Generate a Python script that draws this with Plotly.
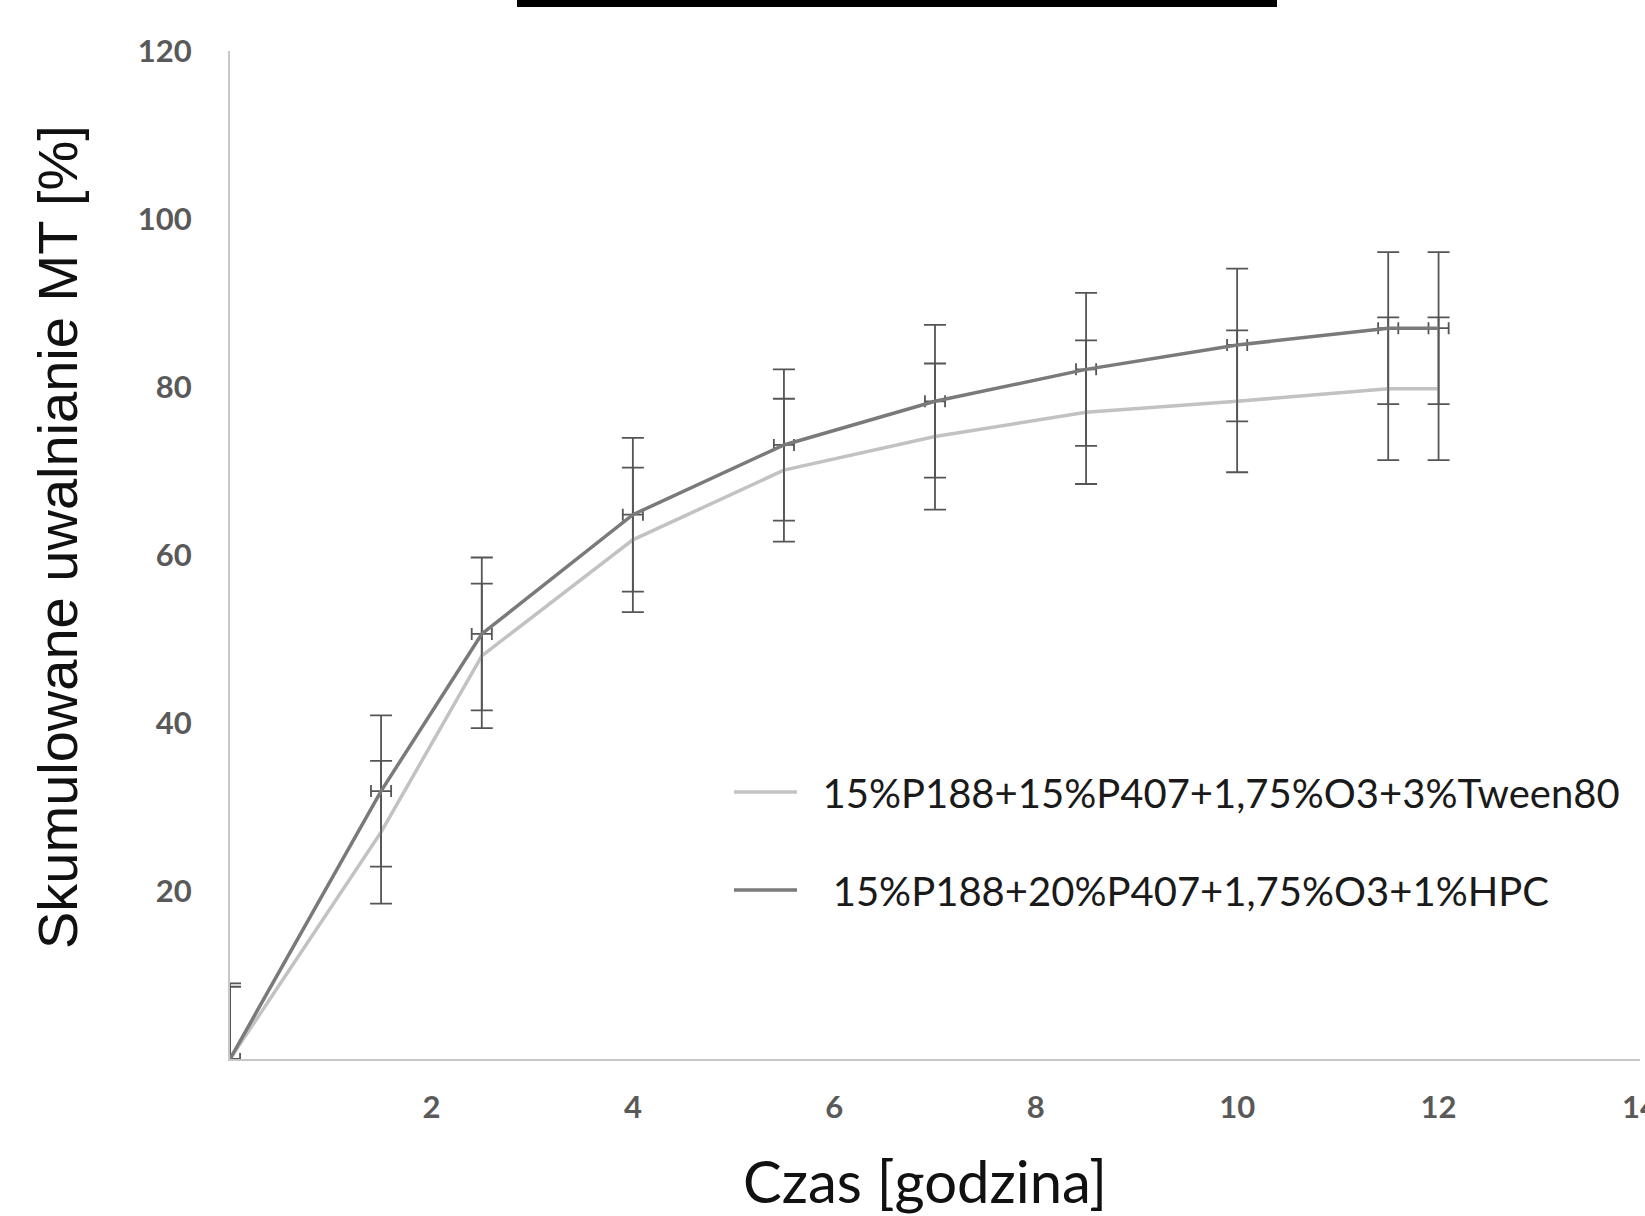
import plotly.graph_objects as go

time_h = [0, 1.5, 2.5, 4, 5.5, 7, 8.5, 10, 11.5, 12]
tween_vals = [0, 27.0, 48.0, 61.8, 70.1, 74.1, 77.0, 78.3, 79.8, 79.8]
tween_err = [8.6, 8.5, 8.6, 8.6, 8.5, 8.7, 8.55, 8.45, 8.5, 8.5]
hpc_vals = [0, 31.9, 50.6, 64.8, 73.1, 78.3, 82.1, 85.0, 87.0, 87.0]
hpc_err = [9.0, 9.0, 9.1, 9.15, 9.0, 9.1, 9.1, 9.1, 9.05, 9.05]
hpc_xerr = [0.1] * len(time_h)

names = ["\u00a0\u00a015%P188+15%P407+1,75%O3+3%Tween80",
         "\u00a0\u00a0\u00a015%P188+20%P407+1,75%O3+1%HPC"]
x_ticks = [2, 4, 6, 8, 10, 12, 14]
y_ticks = [20, 40, 60, 80, 100, 120]

W, H = 1645, 1216
ML, MR, MT, MB = 230, 5, 51, 157
PW, PH = W - ML - MR, H - MT - MB


def px_x(p):
    return (p - ML) / PW


def px_y(p):
    return (H - MB - p) / PH


fig = go.Figure()
fig.add_trace(go.Scatter(
    x=time_h, y=tween_vals, mode="lines", name=names[0], legend="legend",
    line=dict(color="#c2c2c2", width=3.5),
    error_y=dict(type="data", array=tween_err, color="#555555", thickness=1.8, width=11),
))
fig.add_trace(go.Scatter(
    x=time_h, y=hpc_vals, mode="lines", name=names[1], legend="legend2",
    line=dict(color="#7a7a7a", width=3.5),
    error_y=dict(type="data", array=hpc_err, color="#555555", thickness=1.8, width=11),
    error_x=dict(type="data", array=hpc_xerr, color="#555555", thickness=1.8, width=6),
))

leg_font = dict(family="Lato, Open Sans, sans-serif", size=40, color="#1a1a1a")
fig.update_layout(
    width=W, height=H,
    margin=dict(l=ML, r=MR, t=MT, b=MB),
    paper_bgcolor="white", plot_bgcolor="white",
    showlegend=True,
    legend=dict(x=px_x(729), y=px_y(792), xanchor="left", yanchor="middle",
                font=leg_font, itemwidth=63, bgcolor="rgba(0,0,0,0)"),
    legend2=dict(x=px_x(729), y=px_y(890), xanchor="left", yanchor="middle",
                 font=leg_font, itemwidth=63, bgcolor="rgba(0,0,0,0)"),
    font=dict(family="Liberation Sans, Arial, sans-serif"),
    shapes=[dict(type="rect", xref="paper", yref="paper",
                 x0=px_x(517), x1=px_x(1277),
                 y0=px_y(7), y1=px_y(0),
                 fillcolor="black", line=dict(width=0), layer="above")],
    annotations=[
        dict(text="Skumulowane uwalnianie MT [%]", xref="paper", yref="paper",
             x=px_x(57), y=px_y(537), xanchor="center", yanchor="middle",
             textangle=-90, showarrow=False,
             font=dict(family="Liberation Sans, Arial, sans-serif", size=56, color="#111111")),
        dict(text="Czas [godzina]", xref="paper", yref="paper",
             x=px_x(925), y=px_y(1180), xanchor="center", yanchor="middle",
             showarrow=False,
             font=dict(family="Lato, Open Sans, sans-serif", size=58, color="#111111")),
    ],
)
tick_font = dict(family="Lato, Open Sans, sans-serif", size=31, color="#595959", weight="bold")
fig.update_xaxes(
    range=[0, 14], tickvals=x_ticks, ticktext=[str(v) for v in x_ticks],
    showgrid=False, zeroline=False, showline=True, linecolor="#c8c8c8", linewidth=2,
    ticks="", tickfont=tick_font, ticklabelstandoff=20, ticklabeloverflow="allow",
    automargin=False,
)
fig.update_yaxes(
    range=[0, 120], tickvals=y_ticks, ticktext=[str(v) for v in y_ticks],
    showgrid=False, zeroline=False, showline=True, linecolor="#c8c8c8", linewidth=2,
    ticks="", tickfont=tick_font, ticklabelstandoff=30, automargin=False,
)
fig.write_html("out.html", config={"displayModeBar": False},
               post_script="document.body.style.margin='0';document.body.style.overflow='hidden';")
